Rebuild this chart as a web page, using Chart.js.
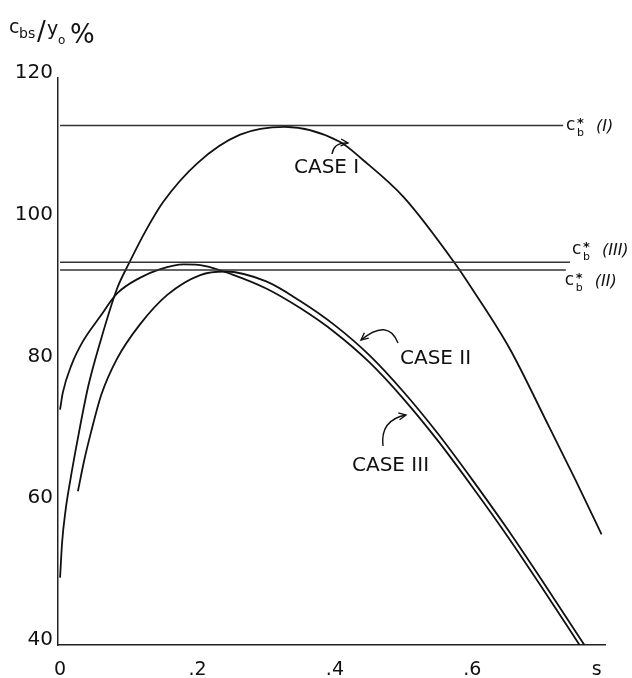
<!DOCTYPE html>
<html>
<head>
<meta charset="utf-8">
<script src="https://cdn.jsdelivr.net/npm/chart.js@4"></script>
<style>
  html, body { margin: 0; padding: 0; background: #fff; }
  #wrap { width: 632px; height: 678px; }
</style>
</head>
<body>
<div id="wrap"><canvas id="chart"></canvas></div>
<script>
// ---- data ----
const caseIS = [0, 0.003, 0.008, 0.015, 0.025, 0.041, 0.058, 0.083, 0.1, 0.125, 0.15, 0.2, 0.262, 0.327, 0.407, 0.44, 0.5, 0.575, 0.6, 0.655, 0.708, 0.75, 0.788];
const caseIV = [49.5, 54.5, 59, 63.3, 68.7, 76.5, 82.6, 90.3, 93.8, 98.5, 102.5, 108, 112, 113.1, 111, 108.5, 103.2, 93.8, 90.2, 81.7, 71.5, 63.3, 55.6];

const caseIIS = [0.026, 0.035, 0.045, 0.06, 0.083, 0.116, 0.156, 0.204, 0.24, 0.3, 0.35, 0.4, 0.45, 0.5, 0.55, 0.6, 0.65, 0.7, 0.763];
const caseIIV = [61.7, 66, 70, 75.3, 80.4, 85.2, 89.4, 92.2, 92.7, 91.3, 88.5, 85.1, 80.9, 75.7, 69.8, 63.3, 56.5, 49.3, 40];

const caseIIIS = [0, 0.004, 0.017, 0.033, 0.058, 0.083, 0.116, 0.145, 0.18, 0.21, 0.25, 0.3, 0.35, 0.4, 0.45, 0.5, 0.55, 0.6, 0.65, 0.7, 0.756];
const caseIIIV = [73.2, 75.6, 79.6, 82.8, 86.3, 89.6, 91.8, 93, 93.7, 93.5, 92.3, 90.3, 87.5, 84.1, 79.9, 74.7, 68.8, 62.3, 55.5, 48.3, 40];

// critical values c_b* for the three cases, and where each reference line stops (in s)
const cbStarI = 113.3, cbStarII = 92.9, cbStarIII = 94.0;
const cbEndI = 0.732, cbEndII = 0.736, cbEndIII = 0.742;

const yTicks = [40, 60, 80, 100, 120];
const xTickValues = [0, 0.2, 0.4, 0.6];
const xTickLabels = ["0", ".2", ".4", ".6"];
const xAxisName = "s";

const pts = (xs, ys) => xs.map((x, i) => ({ x: x, y: ys[i] }));

// ===============================
// text, arrows and line labels
// ===============================
function piece(ctx, txt, x, y, font) {
  ctx.font = font;
  ctx.fillText(txt, x, y);
}

function arrow(ctx, x0, y0, cx, cy, x1, y1) {
  ctx.beginPath();
  ctx.moveTo(x0, y0);
  ctx.quadraticCurveTo(cx, cy, x1, y1);
  ctx.stroke();
  const a = Math.atan2(y1 - cy, x1 - cx);
  ctx.beginPath();
  ctx.moveTo(x1 - 8 * Math.cos(a - 0.45), y1 - 8 * Math.sin(a - 0.45));
  ctx.lineTo(x1, y1);
  ctx.lineTo(x1 - 8 * Math.cos(a + 0.45), y1 - 8 * Math.sin(a + 0.45));
  ctx.stroke();
}

function cbLabel(ctx, x, y, roman) {
  piece(ctx, "c", x, y + 4, '17px "DejaVu Sans"');
  piece(ctx, "b", x + 11, y + 10, '11px "DejaVu Sans"');
  piece(ctx, "*", x + 11, y + 1, 'bold 13px "DejaVu Sans"');
  piece(ctx, "(" + roman + ")", x + 30, y + 5, 'italic 16px "DejaVu Sans"');
}

const notes = {
  id: "notes",
  afterDatasetsDraw(chart) {
    const ctx = chart.ctx;
    const xs = chart.scales.x, ys = chart.scales.y;
    ctx.save();
    ctx.fillStyle = "#111";
    ctx.strokeStyle = "#111";
    ctx.lineWidth = 1.4;
    ctx.textBaseline = "alphabetic";
    ctx.textAlign = "left";

    // y axis title c_bs / y_0 %
    piece(ctx, "c", 9, 33, '19px "DejaVu Sans"');
    piece(ctx, "bs", 19, 38, '14px "DejaVu Sans"');
    piece(ctx, "/", 37, 40, '26px "DejaVu Sans"');
    piece(ctx, "y", 47, 35, '19px "DejaVu Sans"');
    piece(ctx, "o", 58, 44, '12px "DejaVu Sans"');
    piece(ctx, "%", 70, 43, '26px "DejaVu Sans"');

    // labels at the right end of the c_b* lines
    cbLabel(ctx, xs.getPixelForValue(cbEndI) + 3, ys.getPixelForValue(cbStarI) + 1, "I");
    cbLabel(ctx, xs.getPixelForValue(cbEndIII) + 2, ys.getPixelForValue(cbStarIII) - 12, "III");
    cbLabel(ctx, xs.getPixelForValue(cbEndII) - 1, ys.getPixelForValue(cbStarII) + 11, "II");

    // case labels
    ctx.font = '20px "DejaVu Sans"';
    ctx.fillText("CASE I", 294, 173);
    ctx.fillText("CASE II", 400, 364);
    ctx.fillText("CASE III", 352, 471);

    arrow(ctx, 332, 154, 334, 142, 348, 143);
    arrow(ctx, 398, 343, 388, 318, 361, 340);
    arrow(ctx, 383, 446, 380, 420, 406, 415);
    ctx.restore();
  },
};

const curve = (data) => ({
  data: data,
  showLine: true,
  borderColor: "#111",
  borderWidth: 1.8,
  pointRadius: 0,
  cubicInterpolationMode: "monotone",
});

const refLine = (end, v) => ({
  data: [{ x: 0, y: v }, { x: end, y: v }],
  showLine: true,
  borderColor: "#333",
  borderWidth: 1.5,
  pointRadius: 0,
});

new Chart(document.getElementById("chart"), {
  type: "scatter",
  data: {
    datasets: [
      refLine(cbEndI, cbStarI),
      refLine(cbEndII, cbStarII),
      refLine(cbEndIII, cbStarIII),
      curve(pts(caseIS, caseIV)),
      curve(pts(caseIIS, caseIIV)),
      curve(pts(caseIIIS, caseIIIV)),
    ],
  },
  options: {
    responsive: true,
    maintainAspectRatio: false,
    animation: false,
    layout: { padding: { top: 78, right: 27, left: 0, bottom: 0 } },
    plugins: { legend: { display: false }, tooltip: { enabled: false } },
    scales: {
      x: {
        type: "linear",
        min: -0.003,
        max: 0.793,
        grid: { display: false, drawTicks: false },
        border: { display: true, color: "#222", width: 1.5 },
        afterBuildTicks: (s) => {
          s.ticks = xTickValues.map((v) => ({ value: v })).concat([{ value: 0.781 }]);
        },
        afterFit: (s) => { s.height = 33; },
        ticks: {
          autoSkip: false,
          maxRotation: 0,
          padding: 14,
          color: "#111",
          font: { family: "DejaVu Sans", size: 19 },
          callback: (v, i) => (i < xTickLabels.length ? xTickLabels[i] : xAxisName),
        },
      },
      y: {
        min: 40,
        max: 120,
        grid: { display: false, drawTicks: false },
        border: { display: true, color: "#222", width: 1.5 },
        afterBuildTicks: (s) => {
          s.ticks = yTicks.map((v) => ({ value: v }));
        },
        afterFit: (s) => { s.width = 58; },
        ticks: {
          padding: 5,
          labelOffset: -5,
          color: "#111",
          font: { family: "DejaVu Sans", size: 20 },
        },
      },
    },
  },
  plugins: [notes],
});
</script>
</body>
</html>
